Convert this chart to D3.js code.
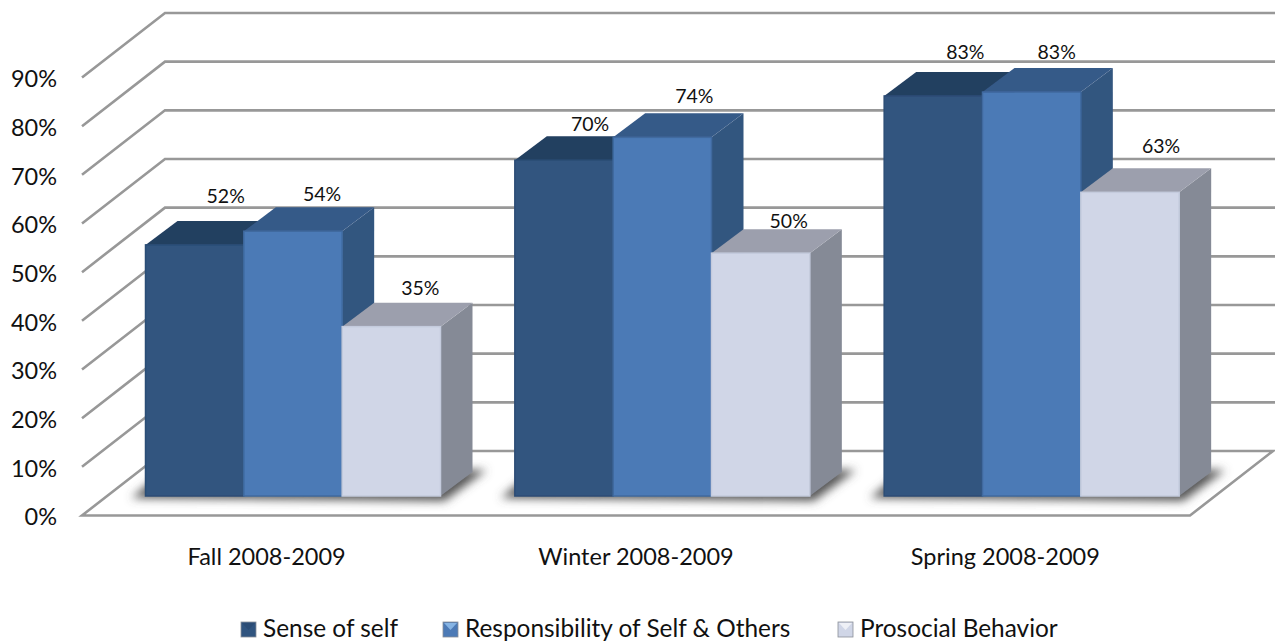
<!DOCTYPE html>
<html>
<head>
<meta charset="utf-8">
<script src="https://cdn.jsdelivr.net/npm/d3@7"></script>
<style>
html, body { margin: 0; padding: 0; background: #fff; }
svg { display: block; }
text { font-family: Lato, "Open Sans", sans-serif; fill: #111; }
.axis text { font-size: 23.5px; }
.cat-label { font-size: 23.5px; }
.data-label { font-size: 19.5px; }
.legend-label { font-size: 24.4px; }
</style>
</head>
<body>
<script>
const categories = ['Fall 2008-2009', 'Winter 2008-2009', 'Spring 2008-2009'];
const seriesNames = ['Sense of self', 'Responsibility of Self & Others', 'Prosocial Behavior'];
const senseOfSelf = [51.6, 69, 82.2];
const responsibility = [54.4, 73.7, 83];
const prosocial = [34.8, 49.9, 62.4];
const senseLabels = ['52%', '70%', '83%'];
const responsibilityLabels = ['54%', '74%', '83%'];
const prosocialLabels = ['35%', '50%', '63%'];
const tickValues = [0, 10, 20, 30, 40, 50, 60, 70, 80, 90];

const width = 1275;
const height = 643;

const series = [
    { values: senseOfSelf, labels: senseLabels, face: '#30547f', edge: '#2c4d76', top: '#243f60', side: '#2a4a70', shine: '#2b4c75' },
    { values: responsibility, labels: responsibilityLabels, face: '#4c7ab6', edge: '#3f6a9f', top: '#365a88', side: '#33567f', shine: '#86b4e4' },
    { values: prosocial, labels: prosocialLabels, face: '#d0d6e7', edge: '#c4cbdd', top: '#9c9fad', side: '#858a96', shine: '#eef0f6' }
];

// hand placed label nudges, the source chart does not line them up
const labelNudge = [
    [[31, -49], [29, -37], [29, -39]],
    [[26, -36], [32, -41], [28, -32]],
    [[32, -44], [25, -40], [31, -46]]
];

const floorDepth = { x: 83, y: -64.5 };
const barDepth = { x: 32, y: -24 };
const barLift = -19.5;

const svg = d3.select('body').append('svg')
    .attr('width', width)
    .attr('height', height);

const defs = svg.append('defs');
defs.append('filter').attr('id', 'soft')
    .append('feGaussianBlur').attr('stdDeviation', 0.6);
defs.append('filter').attr('id', 'shadow')
    .attr('x', '-10%').attr('y', '-50%').attr('width', '120%').attr('height', '200%')
    .append('feGaussianBlur').attr('stdDeviation', 5);

const xGroup = d3.scaleBand().domain(categories).range([82, 1190]);
const xBar = d3.scaleBand().domain(d3.range(3)).range([63.5, 358.5]);
const y = d3.scaleLinear().domain([0, 90]).range([515.5, 77.5]);

const poly = pts => pts.map(p => p.join(',')).join(' ');

// walls
const grid = svg.append('g').attr('filter', 'url(#soft)');
grid.selectAll('.wall').data(tickValues.slice(1))
    .enter().append('polyline')
    .attr('class', 'wall')
    .attr('fill', 'none')
    .attr('stroke', '#989898')
    .attr('stroke-width', 2.6)
    .attr('points', d => poly([
        [82, y(d)],
        [82 + floorDepth.x, y(d) + floorDepth.y],
        [width, y(d) + floorDepth.y]
    ]));

// floor
grid.append('polygon')
    .attr('fill', '#fff')
    .attr('stroke', '#989898')
    .attr('stroke-width', 2.6)
    .attr('points', poly([
        [82, y(0)],
        [1190, y(0)],
        [1190 + floorDepth.x, y(0) + floorDepth.y],
        [82 + floorDepth.x, y(0) + floorDepth.y]
    ]));

// floor shadows
svg.append('g').selectAll('polygon').data(categories)
    .enter().append('polygon')
    .attr('filter', 'url(#shadow)')
    .attr('fill', '#555')
    .attr('points', d => {
        const x0 = xGroup(d) + xBar(0);
        const x1 = xGroup(d) + xBar(2) + xBar.bandwidth();
        const base = y(0) + barLift;
        return poly([
            [x0 - 14, base + 2],
            [x1 + 4, base + 5],
            [x1 + barDepth.x + 14, base + barDepth.y - 2],
            [x0 + 20, base + barDepth.y - 2]
        ]);
    });

// bars
const bars = svg.append('g').attr('filter', 'url(#soft)');
categories.forEach((cat, i) => {
    const g = bars.append('g').attr('class', 'group');
    series.forEach((s, j) => {
        const x0 = xGroup(cat) + xBar(j);
        const x1 = x0 + xBar.bandwidth();
        const yTop = y(s.values[i]) + barLift;
        const yBase = y(0) + barLift;
        g.append('polygon')
            .attr('fill', s.side)
            .attr('points', poly([
                [x1, yTop],
                [x1 + barDepth.x, yTop + barDepth.y],
                [x1 + barDepth.x, yBase + barDepth.y],
                [x1, yBase]
            ]));
        g.append('polygon')
            .attr('fill', s.top)
            .attr('points', poly([
                [x0, yTop],
                [x0 + barDepth.x, yTop + barDepth.y],
                [x1 + barDepth.x, yTop + barDepth.y],
                [x1, yTop]
            ]));
        g.append('rect')
            .attr('x', x0)
            .attr('y', yTop)
            .attr('width', x1 - x0)
            .attr('height', yBase - yTop)
            .attr('fill', s.face)
            .attr('stroke', s.edge)
            .attr('stroke-width', 1.5);
    });
});

// data labels
categories.forEach((cat, i) => {
    series.forEach((s, j) => {
        svg.append('text')
            .attr('class', 'data-label')
            .attr('x', xGroup(cat) + xBar(j) + xBar.bandwidth() / 2 + labelNudge[i][j][0])
            .attr('y', y(s.values[i]) + barLift + labelNudge[i][j][1] + 7)
            .attr('text-anchor', 'middle')
            .text(s.labels[i]);
    });
});

// value axis
svg.append('g').attr('class', 'axis')
    .attr('transform', 'translate(57,0)')
    .call(d3.axisLeft(y).tickValues(tickValues).tickSize(0).tickPadding(0).tickFormat(d => d + '%'))
    .call(g => g.select('.domain').remove())
    .selectAll('text').attr('dy', '0.4em').style('font-family', null);

// category labels
svg.append('g').selectAll('text').data(categories)
    .enter().append('text')
    .attr('class', 'cat-label')
    .attr('x', d => xGroup(d) + xGroup.bandwidth() / 2)
    .attr('y', 565)
    .attr('text-anchor', 'middle')
    .text(d => d);

// legend
const legendX = [241, 443, 838];
const legendG = svg.append('g').attr('class', 'legend');
const legendItem = legendG.selectAll('g').data(series)
    .enter().append('g')
    .attr('transform', (d, i) => `translate(${legendX[i]},622)`);

legendItem.append('rect')
    .attr('width', 15)
    .attr('height', 15)
    .attr('fill', d => d.face)
    .attr('stroke', '#8a8f98')
    .attr('stroke-width', 0.8);

legendItem.append('polygon')
    .attr('points', poly([[1, 1], [14, 1], [7.5, 8]]))
    .attr('fill', d => d.shine);

legendItem.append('text')
    .attr('class', 'legend-label')
    .attr('x', 22)
    .attr('y', 15)
    .text((d, i) => seriesNames[i]);
</script>
</body>
</html>
